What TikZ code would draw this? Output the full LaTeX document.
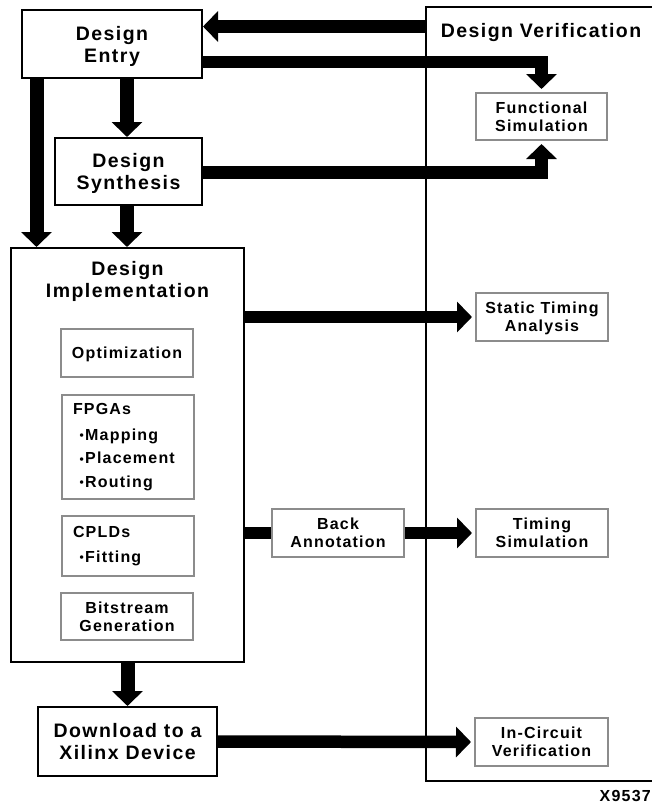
\documentclass[tikz,border=0pt]{standalone}
\usepackage{fontspec}
\setmainfont{Liberation Sans}[LetterSpace=7.5]
\usetikzlibrary{arrows.meta,calc}
\definecolor{boxgray}{HTML}{8C8C8C}
% small raised bullet for the step lists
\newcommand{\stepdot}{\hspace*{6.5pt}{\fontsize{12}{12}\selectfont\raisebox{0.8pt}{•}}\hspace{1.5pt}}
\begin{document}
\begin{tikzpicture}[x=1pt,y=-1pt,
  bigfont/.style={font=\bfseries\fontsize{19.5}{22}\selectfont},
  bigbox/.style={draw=black, line width=2pt, fill=white, inner sep=0pt, align=center,
    text depth=0pt, bigfont},
  graybase/.style={draw=boxgray, line width=2pt, fill=white, inner sep=0pt,
    minimum width=132pt, minimum height=48pt},
  subbox/.style={graybase, align=center, text depth=0pt,
    font=\bfseries\fontsize{16}{18}\selectfont},
  listbox/.style={graybase, align=left, anchor=north west, inner xsep=11pt, text width=110pt,
    font=\bfseries\fontsize{16}{23.8}\selectfont},
  flow/.style={line width=12.5pt, line join=miter, -{Triangle[length=15pt,width=30pt]}},
  drop/.style={flow, line width=14pt},
  bar/.style={line width=12.5pt},
  gap/.style={shorten >=3pt}
]
\useasboundingbox (0,0) rectangle (652,807);

% verification frame (runs off the right edge)
\node[draw, line width=2pt, inner sep=0pt, minimum width=234pt, minimum height=774pt] (verif) at (543,394) {};
\node[anchor=north, inner sep=0pt, bigfont] (vlabel) at (541,23) {Design Verification};

% left column
\node[bigbox, minimum width=180pt, minimum height=68pt] (entry) at (112,44) {Design\\Entry};
\node[bigbox, minimum width=147pt, minimum height=67pt] (synth) at (128.5,171.5) {Design\\Synthesis};
\node[bigbox, minimum width=233pt, minimum height=414pt] (impl) at (127.5,455) {};
\node[anchor=north, inner sep=0pt, align=center, bigfont] (ititle) at (127.5,261) {Design\\Implementation};
\node[bigbox, minimum width=179pt, minimum height=69pt] (dl) at (127.5,741.5) {Download to a\\Xilinx Device};

% implementation steps
\node[subbox] (opt) at (127,353) {Optimization};
\node[listbox, minimum height=104pt] (fpga) at (61,394) {FPGAs\\[2.2pt]
  \stepdot Mapping\\
  \stepdot Placement\\
  \stepdot Routing};
\node[listbox, minimum height=60pt] (cpld) at (61,515) {CPLDs\\[1.5pt]
  \stepdot Fitting};
\node[subbox, minimum height=47pt] (bit) at (127,616.5) {Bitstream\\Generation};

% verification steps
\node[subbox, minimum width=131pt, minimum height=47pt] (fs) at (541.5,116.5) {Functional\\Simulation};
\node[subbox] (sta) at (542,317) {Static Timing\\Analysis};
\node[subbox] (ba) at (338,533) {Back\\Annotation};
\node[subbox] (ts) at (542,533) {Timing\\Simulation};
\node[subbox, minimum width=133pt] (ic) at (541.5,742) {In-Circuit\\Verification};

% X-number
\node[anchor=north east, inner sep=0pt, font=\bfseries\fontsize{16}{18}\selectfont] (xnum) at (651,790) {X9537};

% connectors
\draw[flow] (verif.west |- 0,26.5) -- (entry.east |- 0,26.5);
\draw[flow, gap] (entry.east |- 0,62) -| (fs.north);
\draw[flow, gap] (synth.east |- 0,172.5) -| (fs.south);
\draw[drop] (entry.south -| 127,0) -- (synth.north -| 127,0);
\draw[drop] (entry.south -| 36.5,0) -- (impl.north -| 36.5,0);
\draw[drop] (synth.south -| 127,0) -- (impl.north -| 127,0);
\draw[drop] (impl.south -| 127.5,0) -- (dl.north -| 127.5,0);
\draw[flow, gap] (impl.east |- sta.west) -- (sta.west);
\draw[bar] (impl.east |- ba.west) -- (ba.west);
\draw[flow, gap] (ba.east) -- (ts.west);
\draw[flow, gap] (dl.east) -- (ic.west);
\end{tikzpicture}
\end{document}
